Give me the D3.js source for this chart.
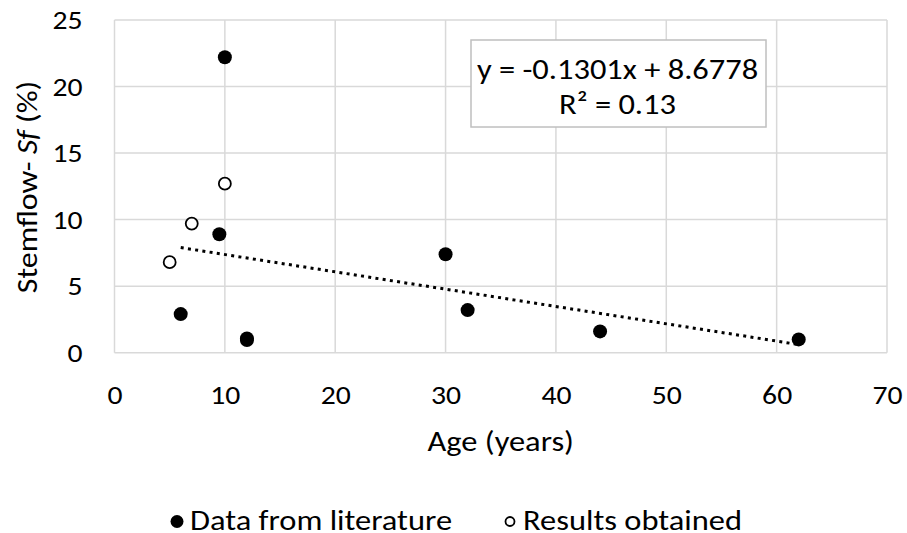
<!DOCTYPE html>
<html>
<head>
<meta charset="utf-8">
<script src="https://cdn.jsdelivr.net/npm/d3@7"></script>
<style>
  body { margin: 0; background: #fff; }
  svg { font-family: Carlito, Calibri, "Open Sans", sans-serif; }
</style>
</head>
<body>
<svg id="chart" width="907" height="533"></svg>
<script>
// literature values (filled markers)
const litAge = [10, 9.5, 6, 12, 12, 30, 32, 44, 62];
const litSf = [22.2, 8.9, 2.9, 0.95, 1.07, 7.4, 3.2, 1.6, 1.0];
// own measurements (open markers)
const obsAge = [5, 7, 10];
const obsSf = [6.8, 9.7, 12.7];

const xTicks = [0, 10, 20, 30, 40, 50, 60, 70];
const yTicks = [0, 5, 10, 15, 20, 25];

// linear trend on literature series
const slope = -0.1301;
const intercept = 8.6778;
const eqLines = ['y = -0.1301x + 8.6778', 'R² = 0.13'];

const legendNames = ['Data from literature', 'Results obtained'];

const svg = d3.select('#chart');
const plot = {left: 114.5, right: 887, top: 20, bottom: 352.7};
const gridColor = '#d9d9d9';
const tickFont = 26.5;
const labelFont = 29;
const stretch = 1.12; // source picture is a bit wider than the font

const x = d3.scaleLinear().domain([0, 70]).range([plot.left, plot.right]);
const y = d3.scaleLinear().domain([0, 25]).range([plot.bottom, plot.top]);

// text placed at (tx, ty) and widened around its anchor
function stretchedText(parent, tx, ty, anchor, size) {
    return parent.append('g')
        .attr('transform', `translate(${tx}, ${ty}) scale(${stretch}, 1)`)
        .append('text')
        .attr('text-anchor', anchor)
        .attr('font-size', size);
}

// grid
svg.append('g')
    .selectAll('line')
    .data(yTicks)
    .join('line')
    .attr('x1', plot.left).attr('x2', plot.right)
    .attr('y1', d => y(d)).attr('y2', d => y(d))
    .attr('stroke', gridColor)
    .attr('stroke-width', 1.5);

svg.append('g')
    .selectAll('line')
    .data(xTicks)
    .join('line')
    .attr('y1', plot.top).attr('y2', plot.bottom)
    .attr('x1', d => x(d)).attr('x2', d => x(d))
    .attr('stroke', gridColor)
    .attr('stroke-width', 1.5);

// axes - only labels, lines come from the grid
let xAxis = d3.axisBottom(x).tickValues(xTicks).tickSize(0).tickPadding(0);
let gx = svg.append('g')
    .attr('transform', `translate(0, ${plot.bottom})`)
    .call(xAxis);
gx.select('.domain').remove();
gx.selectAll('.tick line').remove();
gx.selectAll('.tick text')
    .attr('y', 0)
    .attr('dy', null)
    .attr('transform', `translate(0, 50.8) scale(${stretch}, 1)`)
    .attr('font-size', tickFont)
    .attr('fill', '#000');
gx.attr('font-family', null).attr('font-size', null);

let yAxis = d3.axisLeft(y).tickValues(yTicks).tickSize(0).tickPadding(0);
let gy = svg.append('g')
    .attr('transform', `translate(${plot.left}, 0)`)
    .call(yAxis);
gy.select('.domain').remove();
gy.selectAll('.tick line').remove();
gy.selectAll('.tick text')
    .attr('x', 0)
    .attr('dy', '0.32em')
    .attr('transform', `translate(-32, 0) scale(${stretch}, 1)`)
    .attr('font-size', tickFont)
    .attr('fill', '#000');
gy.attr('font-family', null).attr('font-size', null);

// axis titles
stretchedText(svg, (plot.left + plot.right) / 2, 451, 'middle', labelFont)
    .text('Age (years)');

let yTitle = svg.append('g')
    .attr('transform', 'translate(37, 187) rotate(-90) scale(1.1, 1)')
    .append('text')
    .attr('text-anchor', 'middle')
    .attr('font-size', labelFont);
yTitle.append('tspan').text('Stemflow- ');
yTitle.append('tspan').attr('font-style', 'italic').text('Sf');
yTitle.append('tspan').text(' (%)');

// trend line across the literature ages
const ext = d3.extent(litAge);
svg.append('line')
    .attr('x1', x(ext[0])).attr('y1', y(slope * ext[0] + intercept))
    .attr('x2', x(ext[1])).attr('y2', y(slope * ext[1] + intercept))
    .attr('stroke', '#000')
    .attr('stroke-width', 3)
    .attr('stroke-dasharray', '3 4.3');

// points
svg.append('g')
    .selectAll('circle')
    .data(d3.zip(litAge, litSf))
    .join('circle')
    .attr('cx', d => x(d[0]))
    .attr('cy', d => y(d[1]))
    .attr('r', 7)
    .attr('fill', '#000');

svg.append('g')
    .selectAll('circle')
    .data(d3.zip(obsAge, obsSf))
    .join('circle')
    .attr('cx', d => x(d[0]))
    .attr('cy', d => y(d[1]))
    .attr('r', 6)
    .attr('fill', '#fff')
    .attr('stroke', '#000')
    .attr('stroke-width', 1.8);

// equation box
svg.append('rect')
    .attr('x', 471).attr('y', 40)
    .attr('width', 295).attr('height', 87)
    .attr('fill', '#fff')
    .attr('stroke', '#bfbfbf')
    .attr('stroke-width', 1.5);

eqLines.forEach((line, i) => {
    stretchedText(svg, 617.5, 78.5 + i * 35, 'middle', labelFont).text(line);
});

// legend
let legend = svg.append('g');
legend.append('circle')
    .attr('cx', 177).attr('cy', 521.5).attr('r', 6.5)
    .attr('fill', '#000');
legend.append('circle')
    .attr('cx', 510).attr('cy', 521.5).attr('r', 4.5)
    .attr('fill', '#fff').attr('stroke', '#000').attr('stroke-width', 1.8);
legendNames.forEach((name, i) => {
    stretchedText(legend, i === 0 ? 190 : 523, 529.5, 'start', labelFont).text(name);
});
</script>
</body>
</html>
